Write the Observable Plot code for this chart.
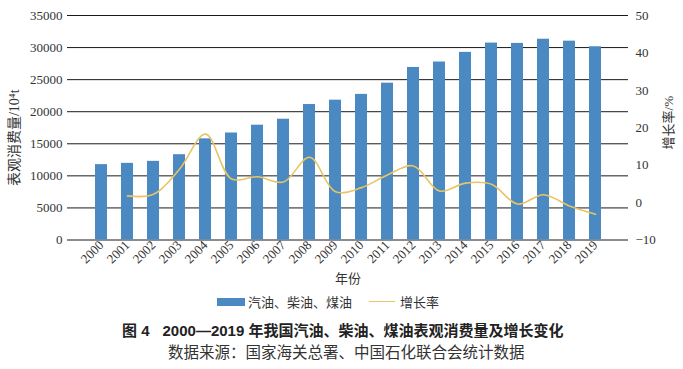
<!DOCTYPE html>
<html>
<head>
<meta charset="utf-8">
<script src="https://cdn.jsdelivr.net/npm/d3@7"></script>
<script src="https://cdn.jsdelivr.net/npm/@observablehq/plot@0.6"></script>
<style>
  html, body { margin: 0; padding: 0; background: #fff; }
  #wrap { position: relative; width: 683px; height: 369px; overflow: hidden; }
  #chart svg { display: block; }
  #chart svg text { font-family: "Liberation Serif", "Times New Roman", "Noto Sans CJK SC", serif; }
  .abs { position: absolute; white-space: nowrap; }
  #legend { top: 294px; left: 217px; font: 13px "Liberation Serif", "Times New Roman", "Noto Sans CJK SC", serif; color: #333; display: flex; align-items: center; height: 15px; }
  #legend .sw { display: inline-block; width: 28px; height: 8px; background: #4a89c2; margin-right: 3px; }
  #legend .ln { display: inline-block; width: 26px; height: 0; border-top: 1.5px solid #e6c86a; margin-left: 17px; margin-right: 5px; }
  #title { top: 323px; left: 122px; font: bold 15px "Liberation Sans", "Noto Sans CJK SC", sans-serif; color: #222; line-height: 15px; }
  #sub { top: 345px; left: 168px; font: 15.5px "Liberation Sans", "Noto Sans CJK SC", sans-serif; color: #333; line-height: 16px; }
</style>
</head>
<body>
<div id="wrap">
  <div id="chart"></div>
  <div id="legend" class="abs"><span class="sw"></span><span>汽油、柴油、煤油</span><span class="ln"></span><span>增长率</span></div>
  <div id="title" class="abs">图 4<span style="display:inline-block;width:13px"></span>2000—2019 年我国汽油、柴油、煤油表观消费量及增长变化</div>
  <div id="sub" class="abs">数据来源：国家海关总署、中国石化联合会统计数据</div>
</div>
<script>
const years = ["2000","2001","2002","2003","2004","2005","2006","2007","2008","2009",
               "2010","2011","2012","2013","2014","2015","2016","2017","2018","2019"];
const consumption = [11750, 11950, 12260, 13300, 15770, 16680, 17900, 18830, 21120, 21800,
                     22700, 24450, 26900, 27750, 29250, 30700, 30650, 31300, 31000, 30125];
const growthYears = ["2001","2002","2003","2004","2005","2006","2007","2008","2009","2010",
                     "2011","2012","2013","2014","2015","2016","2017","2018","2019"];
const growth = [1.8, 2.2, 8.9, 18.3, 6.3, 6.9, 5.5, 12.1, 2.9, 4.0,
                7.4, 9.8, 3.1, 5.2, 4.9, -0.4, 2.1, -0.9, -3.1];
const leftTicks = [0, 5000, 10000, 15000, 20000, 25000, 30000, 35000];
const rightTicks = [-10, 0, 10, 20, 30, 40, 50];

const yMax = 35000, rMin = -10, rMax = 50;
const toY = v => (v - rMin) * yMax / (rMax - rMin);
const fromY = y => y * (rMax - rMin) / yMax + rMin;

const bars = years.map((y, i) => ({year: y, value: consumption[i]}));
const rate = growthYears.map((y, i) => ({year: y, g: growth[i]}));

const serif = "Liberation Serif, Times New Roman, Noto Sans CJK SC, serif";

const chart = Plot.plot({
  width: 683,
  height: 292,
  marginLeft: 67,
  marginRight: 55,
  marginTop: 15,
  marginBottom: 52.5,
  style: {fontFamily: serif, fontSize: "13px", color: "#333", background: "#fff"},
  x: {type: "band", domain: years, paddingInner: 0.55, paddingOuter: 0.275, insetLeft: 14, insetRight: 13},
  y: {domain: [0, yMax]},
  marks: [
    Plot.ruleY(leftTicks, {stroke: "#1a1a1a", strokeWidth: 1}),
    Plot.barY(bars, {x: "year", y: "value", fill: "#4a89c2"}),
    Plot.line(rate, {x: "year", y: d => toY(d.g), stroke: "#e8c464", strokeWidth: 1.6, curve: "catmull-rom"}),
    Plot.axisY(leftTicks, {anchor: "left", tickSize: 0, tickPadding: 5, label: null, fontSize: 13, fontFamily: serif, tickFormat: d => String(d)}),
    Plot.axisY(rightTicks.map(toY), {anchor: "right", tickSize: 0, tickPadding: 7, label: null, fontSize: 13, fontFamily: serif,
      tickFormat: d => { const v = Math.round(fromY(d)); return v < 0 ? "\u2212" + Math.abs(v) : String(v); }}),
    Plot.axisX({tickSize: 0, tickPadding: 3, tickRotate: -45, label: null, fontSize: 13, fontFamily: serif}),
    Plot.text(["表观消费量/10⁴t"], {frameAnchor: "left", textAnchor: "middle", dx: -53, dy: 10, rotate: -90, fontSize: 14, fontFamily: serif, fill: "#333"}),
    Plot.text(["增长率/%"], {frameAnchor: "right", textAnchor: "middle", dx: 40, dy: -5, rotate: -90, fontSize: 13, fontFamily: serif, fill: "#333"}),
    Plot.text(["年份"], {frameAnchor: "bottom", dy: 42.5, fontSize: 13, fontFamily: serif, fill: "#333"})
  ]
});
document.getElementById("chart").appendChild(chart);
</script>
</body>
</html>
